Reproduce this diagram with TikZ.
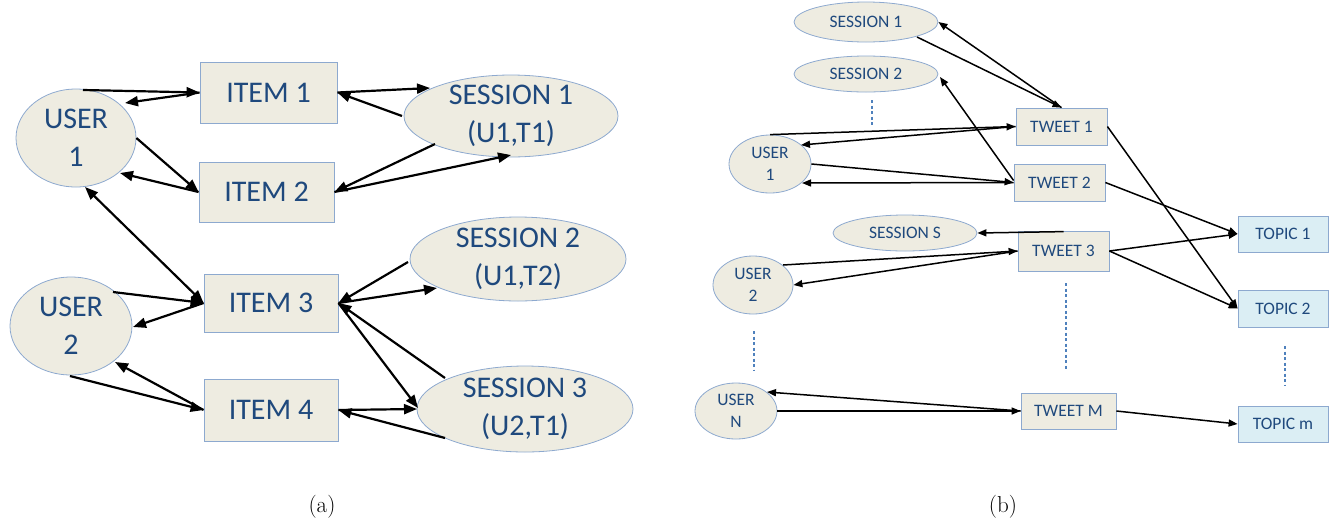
\documentclass[tikz,border=0pt]{standalone}
\usepackage{fontspec}
\newfontfamily\carl{Carlito}
\usetikzlibrary{shapes.geometric,arrows.meta,calc}
\definecolor{txt}{HTML}{1F497D}
\definecolor{bfill}{HTML}{EEECE1}
\definecolor{bdraw}{HTML}{8DA9CF}
\definecolor{tfill}{HTML}{DBEEF4}
\definecolor{dsh}{HTML}{4F81BD}
\begin{document}
\begin{tikzpicture}[x=1pt,y=-1pt,
  bigtxt/.style={font=\carl\fontsize{30}{38}\selectfont, text=txt, align=center},
  smtxt/.style={font=\carl\fontsize{17.5}{22}\selectfont, text=txt, align=center},
  ell/.style={ellipse, draw=bdraw, fill=bfill, line width=0.8pt, inner sep=0pt},
  box/.style={rectangle, draw=bdraw, fill=bfill, line width=0.8pt, inner sep=0pt},
  tbox/.style={rectangle, draw=bdraw, fill=tfill, line width=0.8pt, inner sep=0pt},
  lar/.style={-{Triangle[length=13pt,width=10pt]}, line width=2.2pt, black},
  lbo/.style={{Triangle[length=13pt,width=10pt]}-{Triangle[length=13pt,width=10pt]}, line width=2.2pt, black},
  sar/.style={-{Triangle[length=9pt,width=7pt]}, line width=1.5pt, black},
  dots/.style={draw=dsh, dashed, dash pattern=on 3pt off 2.5pt, line width=1.3pt},
  captxt/.style={font=\fontsize{23}{27}\selectfont}
]
\useasboundingbox (0,0) rectangle (1340,523);

% ---------------- (a) ----------------
\node[ell, minimum width=120, minimum height=98, label={[bigtxt]center:{USER\\1}}] (u1) at (76,138) {};
\node[ell, minimum width=122, minimum height=98, label={[bigtxt]center:{USER\\2}}] (u2) at (71,326) {};
\node[box, bigtxt, minimum width=137, minimum height=61] (i1) at (268.5,92.5) {ITEM 1};
\node[box, bigtxt, minimum width=135, minimum height=60] (i2) at (266.5,192) {ITEM 2};
\node[box, bigtxt, minimum width=134, minimum height=58] (i3) at (271,303) {ITEM 3};
\node[box, bigtxt, minimum width=134, minimum height=62] (i4) at (271,410) {ITEM 4};
\node[ell, minimum width=214, minimum height=82, label={[bigtxt]center:{SESSION 1\\(U1,T1)}}] (s1) at (511,116) {};
\node[ell, minimum width=216, minimum height=84, label={[bigtxt]center:{SESSION 2\\(U1,T2)}}] (s2) at (518,259) {};
\node[ell, minimum width=216, minimum height=86, label={[bigtxt]center:{SESSION 3\\(U2,T1)}}] (s3) at (525,409) {};

\draw[lar] ($(u1)+(7,-48)$) -- (i1.west);
\draw[lar] (i1.west) -- ($(u1)+(49,-35)$);
\draw[lar] (u1.east) -- (i2.west);
\draw[lar] (i2.west) -- ($(u1)+(44,35)$);
\draw[lbo] ($(u1)+(9,49)$) -- (i3.west);
\draw[lar] ($(u2)+(42,-34)$) -- (i3.west);
\draw[lar] (i3.west) -- ($(u2)+(62,1)$);
\draw[lar] ($(u2)+(-1,50)$) -- (i4.west);
\draw[lar] (i4.west) -- ($(u2)+(44,36)$);

\draw[lar] (i1.east) -- ($(s1)+(-81,-28)$);
\draw[lar] ($(s1)+(-109,0)$) -- (i1.east);
\draw[lar] ($(s1)+(-76,28)$) -- (i2.east);
\draw[lar] (i2.east) -- ($(s1)+(0,39)$);
\draw[lar] ($(s2)+(-110,3)$) -- (i3.east);
\draw[lar] (i3.east) -- ($(s2)+(-81,29)$);
\draw[lar] (i3.east) -- ($(s3)+(-107,-1)$);
\draw[lar] ($(s3)+(-80,-31)$) -- (i3.east);
\draw[lar] (i4.east) -- ($(s3)+(-108,0)$);
\draw[lar] ($(s3)+(-80,29)$) -- (i4.east);

\node[captxt] (ca) at (322,507) {(a)};

% ---------------- (b) ----------------
\node[ell, minimum width=144, minimum height=40, label={[smtxt]center:{SESSION 1}}] (su1) at (866,22) {};
\node[ell, minimum width=144, minimum height=36, label={[smtxt]center:{SESSION 2}}] (su2) at (866,74) {};
\node[ell, minimum width=144, minimum height=36, label={[smtxt]center:{SESSION S}}] (ss) at (905,233) {};
\node[ell, minimum width=82, minimum height=58, label={[smtxt]center:{USER\\1}}] (ru1) at (770,164) {};
\node[ell, minimum width=80, minimum height=58, label={[smtxt]center:{USER\\2}}] (ru2) at (753,285) {};
\node[ell, minimum width=82, minimum height=56, label={[smtxt]center:{USER\\N}}] (run) at (736,411) {};
\node[box, smtxt, minimum width=91, minimum height=37] (t1) at (1061.5,126.5) {TWEET 1};
\node[box, smtxt, minimum width=91, minimum height=37] (t2) at (1059.5,182.5) {TWEET 2};
\node[box, smtxt, minimum width=91, minimum height=40] (t3) at (1063.5,251) {TWEET 3};
\node[box, smtxt, minimum width=95, minimum height=36] (tm) at (1068.5,411) {TWEET M};
\node[tbox, smtxt, minimum width=90, minimum height=36] (tp1) at (1283,234) {TOPIC 1};
\node[tbox, smtxt, minimum width=90, minimum height=37] (tp2) at (1283,308.5) {TOPIC 2};
\node[tbox, smtxt, minimum width=90, minimum height=36] (tpm) at (1283,424) {TOPIC m};

\coordinate (d1a) at (872,100); \coordinate (d1b) at (872,127);
\coordinate (d2a) at (754,331); \coordinate (d2b) at (754,371);
\coordinate (d3a) at (1066,283); \coordinate (d3b) at (1066,370);
\coordinate (d4a) at (1285,346); \coordinate (d4b) at (1285,385);
\draw[dots] (d1a) -- (d1b);
\draw[dots] (d2a) -- (d2b);
\draw[dots] (d3a) -- (d3b);
\draw[dots] (d4a) -- (d4b);

\draw[sar] (ru1.north) -- (t1.west);
\draw[sar] (t1.west) -- ($(ru1)+(31,-19)$);
\draw[sar] (ru1.east) -- (t2.west);
\draw[sar] (t2.west) -- ($(ru1)+(32,19)$);
\draw[sar] (t1.north) -- (su1.east);
\draw[sar] ($(su1)+(51,15)$) -- (t1.north);
\draw[sar] ($(t2.west)+(0,-2)$) -- ($(su2)+(74,3)$);
\draw[sar] (t1.east) -- (tp2.west);
\draw[sar] (t2.east) -- (tp1.west);
\draw[sar] (t3.east) -- (tp1.west);
\draw[sar] (t3.east) -- (tp2.west);
\draw[sar] ($(t3.north)+(0,1)$) -- (ss.east);
\draw[sar] ($(ru2)+(30,-20)$) -- (t3.west);
\draw[sar] (t3.west) -- (ru2.east);
\draw[sar] (tm.west) -- ($(run)+(31,-19)$);
\draw[sar] (run.east) -- (tm.west);
\draw[sar] (tm.east) -- (tpm.west);

\node[captxt] (cb) at (1003,507) {(b)};
\end{tikzpicture}
\end{document}
